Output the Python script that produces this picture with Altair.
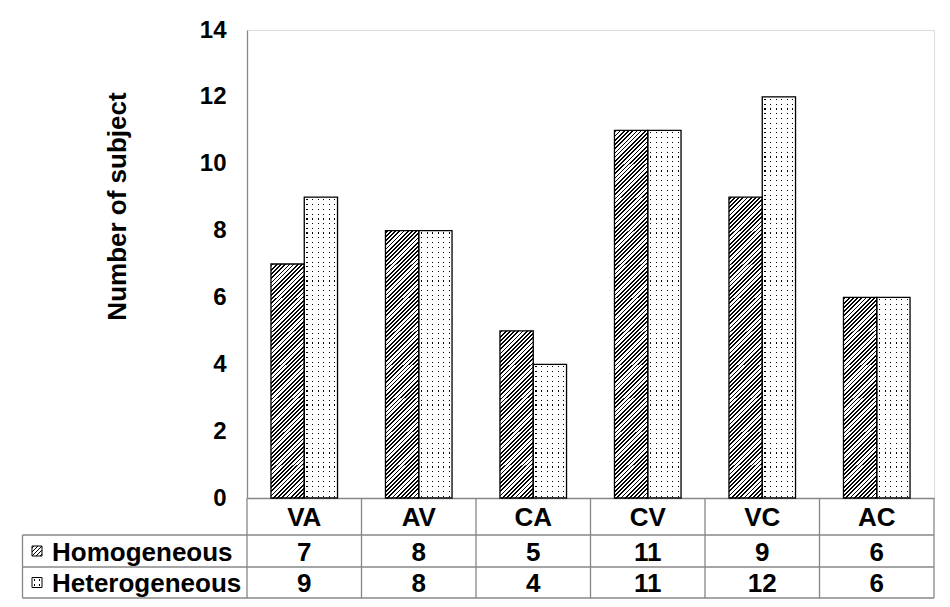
import altair as alt
import pandas as pd

# ---------------- data ----------------
categories = ["VA", "AV", "CA", "CV", "VC", "AC"]
groups = ["Homogeneous", "Heterogeneous"]
homogeneous = [7, 8, 5, 11, 9, 6]
heterogeneous = [9, 8, 4, 11, 12, 6]
y_ticks = [0, 2, 4, 6, 8, 10, 12, 14]
y_max = 14
y_title = "Number of subject"

# ---------------- layout / style ----------------
W, H = 687, 468
PAD_OUT = 0.72
FONT = "Liberation Sans"
GRAY = "#878787"
LINE_W = 1.3
BAND = W / len(categories)
BAR_W = BAND / (2 + 2 * PAD_OUT)
PX = H / y_max          # pixels per unit
OVERLAP = 0.6           # px overlap between pattern tiles

# table geometry (pixels relative to plot origin)
ROW1_BOT, ROW2_BOT, ROW3_BOT = 505, 537, 568
TABLE_LEFT = -224.5
CAT_Y, HOMO_Y, HET_Y = 488, 522.5, 554
LABEL_X = -195
SW_X0, SW_X1 = -215, -205

rows = []
for c, a, b in zip(categories, homogeneous, heterogeneous):
    rows.append({"cat": c, "grp": groups[0], "val": a})
    rows.append({"cat": c, "grp": groups[1], "val": b})
df = pd.DataFrame(rows)
one = pd.DataFrame({"k": [0]})

TRANSP = "rgba(255,255,255,0)"


def stripes(n, on, off, gap):
    lo, hi = (1 - gap) / 2, (1 + gap) / 2
    st = []
    for i in range(n):
        for off_, col in [(i / n, on), ((i + lo) / n, on), ((i + lo) / n, off),
                          ((i + hi) / n, off), ((i + hi) / n, on), ((i + 1) / n, on)]:
            st.append({"offset": round(min(1.0, off_), 5), "color": col})
    return st


def hatch(w, h, period=4.2, dark=0.42):
    a = w / h
    s = (1 + a) / (1 + a * a)
    n = max(1, round((w + h) / period))
    return {"gradient": "linear", "x1": 0, "y1": 0, "x2": s * a, "y2": s,
            "stops": stripes(n, "white", "black", dark)}


def dot_rows(h, n, gap=1.05):
    return {"gradient": "linear", "x1": 0, "y1": 0, "x2": 0, "y2": 1,
            "stops": stripes(n, "white", TRANSP, gap * n / h)}


def dot_cols(w, n=6, gap=1.05):
    return {"gradient": "linear", "x1": 0, "y1": 0, "x2": 1, "y2": 0,
            "stops": stripes(n, "white", TRANSP, gap * n / w)}


# ---------------- encodings ----------------
x_scale = alt.Scale(domain=categories, paddingInner=0, paddingOuter=0)
x_axis = alt.Axis(labels=False, ticks=False, domain=True, domainColor=GRAY,
                  domainWidth=LINE_W, title=None, grid=False)
x_enc = alt.X("cat:N", sort=categories, scale=x_scale, axis=x_axis)
xo_enc = alt.XOffset("grp:N", sort=groups,
                     scale=alt.Scale(domain=groups, paddingInner=0, paddingOuter=PAD_OUT))
y_scale = alt.Scale(domain=[0, y_max], nice=False, zero=True)
y_axis = alt.Axis(values=y_ticks, title=y_title, grid=False, ticks=False,
                  domainColor=GRAY, domainWidth=LINE_W,
                  labelFont=FONT, labelFontSize=24, labelFontWeight="bold",
                  labelColor="black", labelPadding=21,
                  titleFont=FONT, titleFontSize=26, titleFontWeight="bold",
                  titleColor="black", titleAngle=270, titleAlign="center",
                  titleBaseline="middle", titleX=-130, titleY=176)


def y_of(field):
    return alt.Y(field, scale=y_scale, axis=y_axis)


# unit tiles of each bar (the bar is split into 1-unit pieces that carry the pattern)
def tiles(group):
    return (alt.Chart(df)
            .transform_filter(f"datum.grp === '{group}'")
            .transform_calculate(seq="sequence(0, datum.val)")
            .transform_flatten(["seq"])
            .transform_calculate(top="datum.seq + 1"))


TILE_H = PX + OVERLAP
tile_enc = dict(x=x_enc, xOffset=xo_enc, y=y_of("top:Q"), y2="seq:Q")

homo_tiles = tiles(groups[0]).mark_bar(
    fill=hatch(BAR_W, TILE_H), y2Offset=OVERLAP).encode(**tile_enc)
het_base = tiles(groups[1]).mark_bar(fill="black", y2Offset=OVERLAP).encode(**tile_enc)
het_rows = tiles(groups[1]).mark_bar(
    fill=dot_rows(TILE_H, 7), y2Offset=OVERLAP).encode(**tile_enc)
het_cols = tiles(groups[1]).mark_bar(
    fill=dot_cols(BAR_W), y2Offset=OVERLAP).encode(**tile_enc)

bars_outline = alt.Chart(df).mark_bar(
    fill="transparent", stroke="black", strokeWidth=LINE_W
).encode(x=x_enc, xOffset=xo_enc, y=y_of("val:Q"))

# ---------------- table ----------------
txt = dict(font=FONT, fontSize=26, fontWeight="bold", color="black",
           baseline="middle", align="center")

cat_labels = alt.Chart(df).transform_filter(f"datum.grp === '{groups[0]}'").mark_text(**txt).encode(
    x=x_enc, y=alt.value(CAT_Y), text="cat:N")
homo_vals = alt.Chart(df).transform_filter(f"datum.grp === '{groups[0]}'").mark_text(**txt).encode(
    x=x_enc, y=alt.value(HOMO_Y), text="val:Q")
het_vals = alt.Chart(df).transform_filter(f"datum.grp === '{groups[1]}'").mark_text(**txt).encode(
    x=x_enc, y=alt.value(HET_Y), text="val:Q")

vsep = alt.Chart(df).transform_filter(f"datum.grp === '{groups[0]}'").mark_rule(
    color=GRAY, strokeWidth=LINE_W).encode(
    x=alt.X("cat:N", sort=categories, bandPosition=0, scale=x_scale, axis=x_axis),
    y=alt.value(H), y2=alt.value(ROW3_BOT))


def rule(**enc):
    return alt.Chart(one).mark_rule(color=GRAY, strokeWidth=LINE_W).encode(**enc)


right_border = rule(x=alt.value(W), y=alt.value(H), y2=alt.value(ROW3_BOT))
left_border = rule(x=alt.value(TABLE_LEFT), y=alt.value(ROW1_BOT), y2=alt.value(ROW3_BOT))
h1 = rule(x=alt.value(TABLE_LEFT), x2=alt.value(W), y=alt.value(ROW1_BOT))
h2 = rule(x=alt.value(TABLE_LEFT), x2=alt.value(W), y=alt.value(ROW2_BOT))
h3 = rule(x=alt.value(TABLE_LEFT), x2=alt.value(W), y=alt.value(ROW3_BOT))

lbl_style = dict(txt, align="left")
homo_lbl = alt.Chart(one).mark_text(**lbl_style).encode(
    x=alt.value(LABEL_X), y=alt.value(HOMO_Y), text=alt.value(groups[0]))
het_lbl = alt.Chart(one).mark_text(**lbl_style).encode(
    x=alt.value(LABEL_X), y=alt.value(HET_Y), text=alt.value(groups[1]))


def swatch(fill, cy, stroke=False):
    kw = dict(fill=fill)
    if stroke:
        kw = dict(fill="transparent", stroke="black", strokeWidth=1)
    return alt.Chart(one).mark_rect(**kw).encode(
        x=alt.value(SW_X0), x2=alt.value(SW_X1),
        y=alt.value(cy - 5), y2=alt.value(cy + 5))


sw_homo = swatch(hatch(10, 10, period=4.0, dark=0.42), HOMO_Y - 1.5)
sw_homo_o = swatch("", HOMO_Y - 1.5, stroke=True)
sw_het_b = swatch("black", HET_Y - 1.5)
sw_het_r = swatch(dot_rows(10, 2, gap=1.1), HET_Y - 1.5)
sw_het_c = swatch(dot_cols(10, n=2, gap=1.1), HET_Y - 1.5)
sw_het_o = swatch("", HET_Y - 1.5, stroke=True)

chart = alt.layer(
    homo_tiles, het_base, het_rows, het_cols, bars_outline,
    vsep, right_border, left_border, h1, h2, h3,
    cat_labels, homo_vals, het_vals, homo_lbl, het_lbl,
    sw_homo, sw_homo_o, sw_het_b, sw_het_r, sw_het_c, sw_het_o,
).properties(
    width=W, height=H,
    autosize=alt.AutoSizeParams(type="none"),
    padding={"left": 239, "top": 22, "right": 4, "bottom": 101},
).configure_view(stroke="transparent").configure(background="white")

chart.save("out.html", embed_options={"renderer": "svg", "actions": False})
